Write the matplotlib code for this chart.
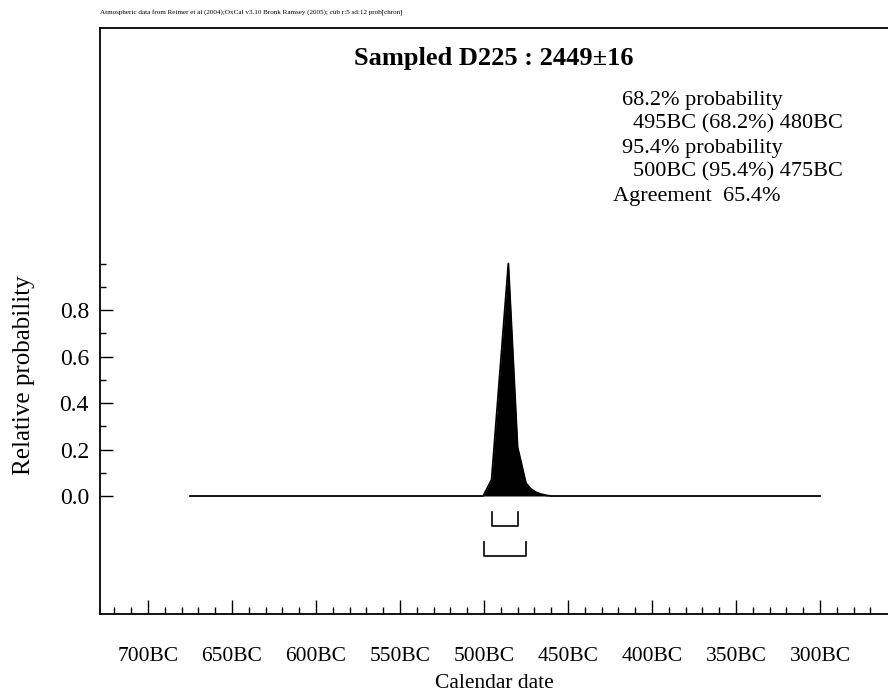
import numpy as np
import matplotlib
matplotlib.use("Agg")
import matplotlib.pyplot as plt
from matplotlib.ticker import FixedLocator, FuncFormatter

plt.rcParams['font.family'] = ['Liberation Serif', 'DejaVu Serif']

# probability distribution (calendar year, negative = BC)
years = [-675, -500.5, -495.5, -485.5, -480, -475, -472, -469, -466, -463, -460, -300]
prob = [0.0, 0.0, 0.07, 1.0, 0.21, 0.055, 0.03, 0.016, 0.008, 0.003, 0.0, 0.0]

# highest probability ranges
ranges = [(-495, -480), (-500, -475)]
range_labels = ["68.2% probability", "495BC (68.2%) 480BC",
                "95.4% probability", "500BC (95.4%) 475BC"]
agreement = 65.4

x_major = [-700, -650, -600, -550, -500, -450, -400, -350, -300]
y_major = [0.0, 0.2, 0.4, 0.6, 0.8]

fig = plt.figure(figsize=(8.88, 6.96), dpi=100)
ax = fig.add_axes([100 / 888, 82 / 696, 1 - 100 / 888, 586 / 696])

ax.fill_between(years, prob, color='black', lw=0)
ax.plot(years, prob, color='black', lw=1.3)

# range brackets
levels = [(-0.069, -0.129), (-0.197, -0.257)]
for (a, b), (top, bot) in zip(ranges, levels):
    ax.plot([a, a, b, b], [top, bot, bot, top], color='black', lw=1.2)

ax.set_xlim(-728.6, -259.5)
ax.set_ylim(-0.5075, 2.013)

ax.spines['right'].set_visible(False)
for s in ['top', 'left', 'bottom']:
    ax.spines[s].set_linewidth(1.3)

ax.xaxis.set_major_locator(FixedLocator(x_major))
ax.xaxis.set_minor_locator(FixedLocator(np.arange(-720, -260, 10)))
ax.xaxis.set_major_formatter(FuncFormatter(lambda v, p: f"{int(-v)}BC"))
ax.yaxis.set_major_locator(FixedLocator(y_major))
ax.yaxis.set_minor_locator(FixedLocator([0.1, 0.3, 0.5, 0.7, 0.9, 1.0]))
ax.yaxis.set_major_formatter(FuncFormatter(lambda v, p: f"{v:.1f}"))

ax.tick_params(axis='x', which='major', direction='in', length=10, width=1, pad=24, labelsize=15.5)
ax.tick_params(axis='x', which='minor', direction='in', length=5, width=1)
ax.tick_params(axis='y', which='major', direction='in', length=9, width=1, pad=8, labelsize=17)
ax.tick_params(axis='y', which='minor', direction='in', length=4.5, width=1)
ax.tick_params(top=False, right=False)

ax.set_xlabel("Calendar date", fontsize=15.5, va='center')
ax.xaxis.set_label_coords(0.5, (614 - 684) / 586)
ax.set_ylabel("Relative probability", fontsize=18, va='center')
ax.yaxis.set_label_coords(-76 / 788, (614 - 375) / 586)

ax.text(0.5, (614 - 58) / 586, "Sampled D225 : 2449±16", transform=ax.transAxes,
        fontsize=19, fontweight='bold', ha='center', va='center')

tx = ax.transAxes
lx = (622 - 100) / 788
ix = (633 - 100) / 788
ys = [(614 - py) / 586 for py in [100, 124, 148, 172, 196]]
for i, t in enumerate(range_labels):
    ax.text(lx if i % 2 == 0 else ix, ys[i], t, transform=tx, fontsize=16,
            va='center', ha='left')
ax.text((613 - 100) / 788, ys[4], f"Agreement  {agreement}%", transform=tx,
        fontsize=16, va='center', ha='left')

fig.text(100 / 888, 1 - 13 / 696,
         "Atmospheric data from Reimer et al (2004);OxCal v3.10 Bronk Ramsey (2005); cub r:5 sd:12 prob[chron]",
         fontsize=5.1, va='center', ha='left')

fig.savefig("out.png", dpi=100)
